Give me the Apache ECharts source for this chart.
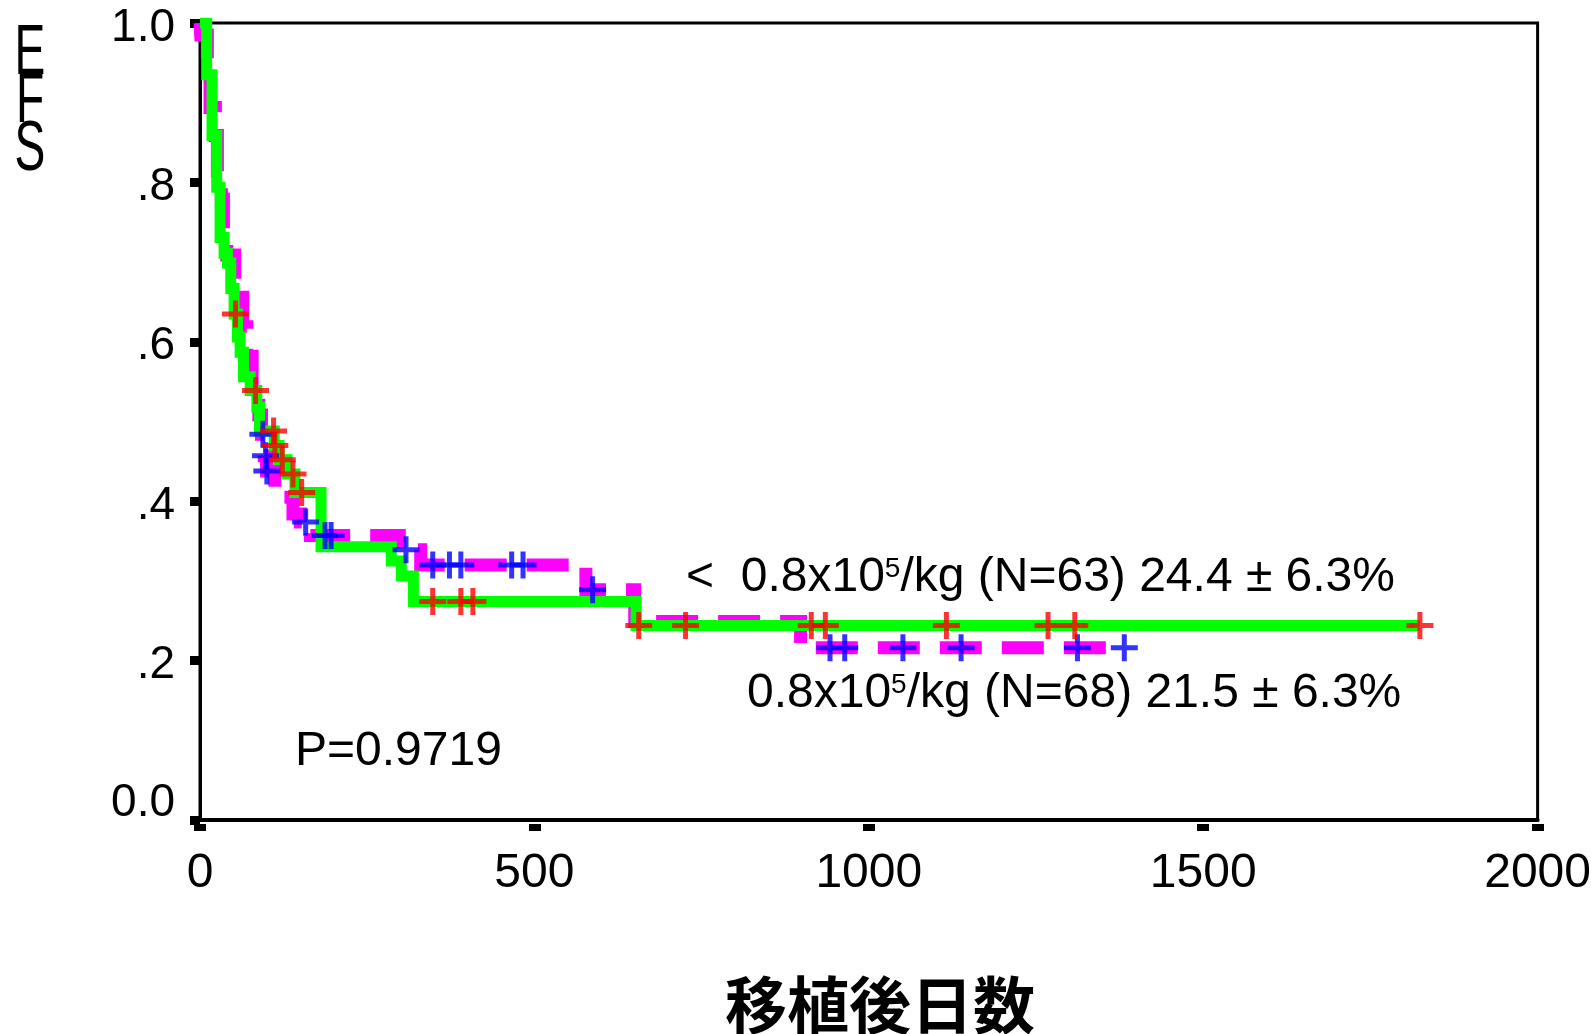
<!DOCTYPE html>
<html>
<head>
<meta charset="utf-8">
<script src="https://cdn.jsdelivr.net/npm/echarts@6/dist/echarts.min.js"></script>
<style>
  html, body { margin: 0; padding: 0; background: #fff; }
  #chart { width: 1594px; height: 1034px; }
</style>
</head>
<body>
<div id="chart"></div>
<script>
// Axis ticks
const xTickValues = [0, 500, 1000, 1500, 2000];
const yTickValues = [0, 0.2, 0.4, 0.6, 0.8, 1.0];
const yTickLabels = ['0.0', '.2', '.4', '.6', '.8', '1.0'];

// Group < 0.8x10^5/kg (N=63): event days and survival after each event
const lowDays = [0, 10, 18, 25, 30, 36, 41, 46, 51, 56, 60, 65, 75, 85, 89, 111, 118, 130, 142, 181, 286, 301, 319, 652];
const lowSurv = [1.0, 0.935, 0.859, 0.794, 0.731, 0.711, 0.699, 0.667, 0.635, 0.606, 0.587, 0.556, 0.539, 0.518, 0.488, 0.470, 0.452, 0.434, 0.411, 0.343, 0.325, 0.306, 0.274, 0.244];
// censored cases (days)
const lowCensor = [53, 83, 110, 112, 123, 139, 152, 348, 390, 408, 656, 726, 914, 935, 1116, 1268, 1308, 1824];

// Group 0.8x10^5/kg (N=68)
const highDays = [0, 1, 11, 15, 23, 26, 32, 35, 40, 52, 64, 70, 78, 88, 92, 96, 99.5, 112, 139, 150, 165, 298, 330, 577, 650, 898];
const highSurv = [1.0, 0.985, 0.935, 0.894, 0.859, 0.814, 0.779, 0.735, 0.709, 0.666, 0.619, 0.582, 0.532, 0.508, 0.484, 0.457, 0.438, 0.405, 0.384, 0.374, 0.357, 0.339, 0.320, 0.289, 0.249, 0.216];
const highCensor = [94, 98, 100, 158, 187, 196, 308, 348, 373, 390, 466, 483, 587, 942, 964, 1051, 1138, 1312, 1382];

// Survival level in effect at day t
function levelAt(days, surv, t) {
  let s = surv[0];
  for (let i = 0; i < days.length; i++) if (days[i] <= t) s = surv[i];
  return s;
}
// Step curve running to the last follow-up
function curve(days, surv, censor) {
  const pts = days.map((d, i) => [d, surv[i]]);
  const last = Math.max(days[days.length - 1], censor[censor.length - 1]);
  pts.push([last, levelAt(days, surv, last)]);
  return pts;
}
function marks(days, surv, censor) {
  return censor.map(t => [t, levelAt(days, surv, t)]);
}

const crossPath = 'path://M11,0H16V11H27V16H16V27H11V16H0V11H11Z';
const latin = '"Liberation Sans", Arial, sans-serif';
const supStyle = { fontSize: 28, fontFamily: 'Liberation Sans', fill: '#000', verticalAlign: 'middle', padding: [0, 0, 18, 0] };

const chart = echarts.init(document.getElementById('chart'), null, { renderer: 'canvas' });

chart.setOption({
  animation: false,
  backgroundColor: '#ffffff',
  grid: {
    left: 200, right: 53, top: 23, bottom: 214,
    show: true, borderColor: '#000', borderWidth: 3, backgroundColor: 'transparent'
  },
  xAxis: [
    {
      type: 'value', position: 'bottom', min: 0, max: 2000, interval: 500,
      axisLine: { show: true, lineStyle: { color: '#000', width: 4 } },
      axisTick: { show: false },
      splitLine: { show: false },
      axisLabel: {
        color: '#000', fontSize: 48, fontFamily: latin, margin: 30,
        formatter: v => String(xTickValues.find(t => t === v) ?? v)
      }
    },
    {
      // tick marks set slightly apart below the axis line
      type: 'value', position: 'bottom', min: 0, max: 2000, interval: 500, offset: 4,
      axisLine: { show: false },
      axisTick: { show: true, inside: false, length: 7, lineStyle: { color: '#000', width: 12 } },
      axisLabel: { show: false },
      splitLine: { show: false }
    }
  ],
  yAxis: {
    type: 'value', min: 0, max: 1, interval: 0.2,
    axisLine: { show: true, lineStyle: { color: '#000', width: 3 } },
    axisTick: { show: true, length: 10, lineStyle: { color: '#000', width: 9 } },
    splitLine: { show: false },
    axisLabel: {
      margin: 25,
      formatter: v => {
        const i = yTickValues.findIndex(t => Math.abs(t - v) < 1e-6);
        const txt = i >= 0 ? yTickLabels[i] : String(v);
        return v === 0 ? '{z|' + txt + '}' : '{a|' + txt + '}';
      },
      rich: {
        a: { color: '#000', fontSize: 46, fontFamily: latin, padding: [10, 0, 0, 0] },
        z: { color: '#000', fontSize: 46, fontFamily: latin, padding: [0, 0, 34, 0] }
      }
    }
  },
  series: [
    {
      name: '0.8x10^5/kg (N=68)', type: 'line', step: 'end', z: 2,
      data: curve(highDays, highSurv, highCensor),
      showSymbol: false, silent: true,
      lineStyle: { color: '#ff00ff', width: 13, type: [42, 20], cap: 'butt', join: 'miter' }
    },
    {
      name: '< 0.8x10^5/kg (N=63)', type: 'line', step: 'end', z: 3,
      data: curve(lowDays, lowSurv, lowCensor),
      showSymbol: false, silent: true,
      lineStyle: { color: '#00ff00', width: 11, type: 'solid', cap: 'butt', join: 'miter' }
    },
    {
      name: 'censored (N=68)', type: 'scatter', z: 4, silent: true,
      data: marks(highDays, highSurv, highCensor),
      symbol: crossPath, symbolSize: 27,
      itemStyle: { color: '#0000ff' }
    },
    {
      name: 'censored (N=63)', type: 'scatter', z: 5, silent: true,
      data: marks(lowDays, lowSurv, lowCensor),
      symbol: crossPath, symbolSize: 27,
      itemStyle: { color: '#ff0000' }
    }
  ],
  graphic: [
    {
      type: 'text', x: 686, y: 578, silent: true,
      style: {
        text: '<  0.8x10{sup|5}/kg (N=63) 24.4 ± 6.3%',
        font: '48px ' + latin, fill: '#000', align: 'left', verticalAlign: 'middle',
        rich: { sup: supStyle }
      }
    },
    {
      type: 'text', x: 747, y: 694, silent: true,
      style: {
        text: '0.8x10{sup|5}/kg (N=68) 21.5 ± 6.3%',
        font: '48px ' + latin, fill: '#000', align: 'left', verticalAlign: 'middle',
        rich: { sup: supStyle }
      }
    },
    {
      type: 'text', x: 295, y: 752, silent: true,
      style: { text: 'P=0.9719', font: '48px ' + latin, fill: '#000', align: 'left', verticalAlign: 'middle' }
    },
    {
      type: 'text', x: 30, y: 31, scaleX: 0.66, silent: true,
      style: {
        text: 'E\nF\nS', font: '70px ' + latin, lineHeight: 48,
        fill: '#000', align: 'center', verticalAlign: 'top'
      }
    },
    {
      type: 'text', x: 880, y: 1005, silent: true,
      style: {
        text: '移植後日数', font: 'bold 62px "Noto Sans CJK JP", sans-serif',
        fill: '#000', align: 'center', verticalAlign: 'middle'
      }
    }
  ]
});
</script>
</body>
</html>
